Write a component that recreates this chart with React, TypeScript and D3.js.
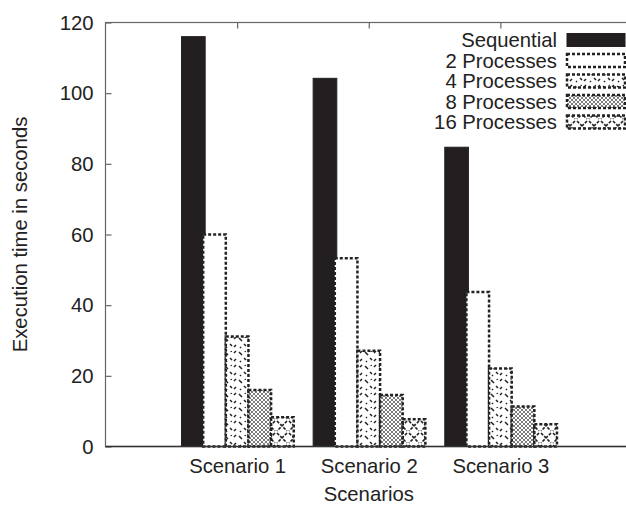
import * as d3 from "d3";
import * as React from "react";

// values
const scenarios = ["Scenario 1", "Scenario 2", "Scenario 3"];
const seriesNames = ["Sequential", "2 Processes", "4 Processes", "8 Processes", "16 Processes"];
const sequential = [116.0, 104.2, 84.7];
const proc2 = [60.0, 53.3, 43.7];
const proc4 = [31.1, 27.1, 22.1];
const proc8 = [16.0, 14.6, 11.3];
const proc16 = [8.3, 7.7, 6.3];
const yTicks = [0, 20, 40, 60, 80, 100, 120];

const fills = ["#231f20", "#fff", "url(#p4)", "url(#p8)", "url(#p16)"];

export default function App() {
  const ref = React.useRef<SVGSVGElement>(null);

  React.useEffect(() => {
    const width = 626;
    const height = 507;
    const margin = { top: 22.5, right: -6, bottom: 60.5, left: 105.5 };
    const font = "'Liberation Sans', Arial, sans-serif";
    const fs = 20.3;
    const series = [sequential, proc2, proc4, proc8, proc16];

    const svg = d3.select(ref.current);
    svg.selectAll("*").remove();

    const x = d3.scaleLinear().domain([0, 4]).range([margin.left, width - margin.right]);
    const y = d3.scaleLinear().domain([0, 120]).range([height - margin.bottom, margin.top]);

    // fill patterns in the style of gnuplot
    const defs = svg.append("defs");
    const p4 = defs.append("pattern").attr("id", "p4").attr("patternUnits", "userSpaceOnUse")
      .attr("width", 14).attr("height", 14);
    p4.append("rect").attr("width", 14).attr("height", 14).attr("fill", "#fff");
    p4.append("path").attr("d", "M1,2L4,5M10,3L12,1M6,8L8,10M12,9L10,11M2,11L3,12M7,1L7.5,2")
      .attr("stroke", "#222").attr("stroke-width", 1.5);
    const p8 = defs.append("pattern").attr("id", "p8").attr("patternUnits", "userSpaceOnUse")
      .attr("width", 4).attr("height", 4);
    p8.append("rect").attr("width", 4).attr("height", 4).attr("fill", "#fff");
    p8.append("path").attr("d", "M0,0L4,4M4,0L0,4").attr("stroke", "#444").attr("stroke-width", 0.7);
    const p16 = defs.append("pattern").attr("id", "p16").attr("patternUnits", "userSpaceOnUse")
      .attr("width", 12).attr("height", 12);
    p16.append("rect").attr("width", 12).attr("height", 12).attr("fill", "#fff");
    p16.append("path").attr("d", "M1,1L11,11M11,1L1,11").attr("stroke", "#222")
      .attr("stroke-width", 1.6).attr("stroke-dasharray", "3,1.5");

    // frame
    svg.append("rect")
      .attr("x", x(0)).attr("y", y(120))
      .attr("width", x(4) - x(0)).attr("height", y(0) - y(120))
      .attr("fill", "none").attr("stroke", "#666").attr("stroke-width", 1.2);

    // y axis, ticks pointing inwards
    svg.append("g")
      .attr("transform", `translate(${x(0)},0)`)
      .call(d3.axisLeft(y).tickValues(yTicks).tickSize(-6).tickPadding(12).tickSizeOuter(0))
      .call((g) => g.select(".domain").remove())
      .call((g) => g.selectAll(".tick line").attr("stroke", "#666").attr("stroke-width", 1.2))
      .call((g) => g.selectAll(".tick text").attr("font-family", font).attr("font-size", fs).attr("fill", "#222"));

    // top mirror ticks
    svg.append("g")
      .attr("transform", `translate(0,${y(120)})`)
      .call(d3.axisTop(x).tickValues([1, 2, 3]).tickSize(-6).tickFormat(() => "").tickSizeOuter(0))
      .call((g) => g.select(".domain").remove())
      .call((g) => g.selectAll(".tick line").attr("stroke", "#666").attr("stroke-width", 1.2));

    // x axis labels
    svg.append("g")
      .attr("transform", `translate(0,${y(0)})`)
      .call(d3.axisBottom(x).tickValues([1, 2, 3]).tickSize(0).tickPadding(12)
        .tickFormat((d) => scenarios[(d as number) - 1]))
      .call((g) => g.select(".domain").remove())
      .call((g) => g.selectAll(".tick text").attr("font-family", font).attr("font-size", fs).attr("fill", "#222"));

    // bars
    const barW = 0.172;
    series.forEach((vals, i) => {
      svg.append("g")
        .selectAll("rect")
        .data(vals)
        .join("rect")
        .attr("x", (d, j) => x(j + 1 + (i - 2.5) * barW) + (i === 0 ? 1 : 0))
        .attr("y", (d) => y(d))
        .attr("width", x(barW) - x(0) + (i === 0 ? 1 : 0))
        .attr("height", (d) => y(0) - y(d))
        .attr("fill", fills[i])
        .attr("stroke", i === 0 ? "#231f20" : "#222")
        .attr("stroke-width", i === 0 ? 1 : 2.5)
        .attr("stroke-dasharray", i === 0 ? null : "3,2");
    });

    // bottom axis line over bars
    svg.append("line")
      .attr("x1", x(0)).attr("x2", x(4)).attr("y1", y(0)).attr("y2", y(0))
      .attr("stroke", "#333").attr("stroke-width", 1.6);

    // legend
    const legend = svg.append("g");
    seriesNames.forEach((name, i) => {
      const cy = 40 + i * 20.5;
      legend.append("text")
        .attr("x", 557).attr("y", cy).attr("dy", "0.35em")
        .attr("text-anchor", "end")
        .attr("font-family", font).attr("font-size", fs).attr("fill", "#222")
        .text(name);
      legend.append("rect")
        .attr("x", 567).attr("y", cy - 6.5).attr("width", 58).attr("height", 13)
        .attr("fill", fills[i])
        .attr("stroke", i === 0 ? "#231f20" : "#222")
        .attr("stroke-width", i === 0 ? 1 : 2.5)
        .attr("stroke-dasharray", i === 0 ? null : "3,2");
    });

    // axis titles
    svg.append("text")
      .attr("transform", `translate(27,${(y(0) + y(120)) / 2}) rotate(-90)`)
      .attr("text-anchor", "middle")
      .attr("font-family", font).attr("font-size", fs).attr("fill", "#222")
      .text("Execution time in seconds");
    svg.append("text")
      .attr("x", x(2)).attr("y", 501)
      .attr("text-anchor", "middle")
      .attr("font-family", font).attr("font-size", fs).attr("fill", "#222")
      .text("Scenarios");
  }, []);

  return (
    <svg
      ref={ref}
      width={626}
      height={507}
      style={{ position: "absolute", left: 0, top: 0, background: "#fff" }}
    ></svg>
  );
}
